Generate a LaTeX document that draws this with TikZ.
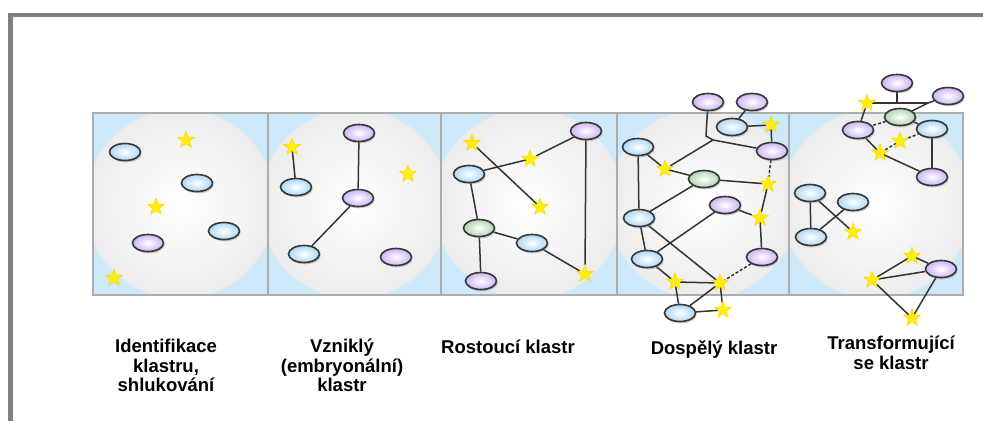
\documentclass[tikz,border=0pt]{standalone}
\usepackage{fontspec}
\setmainfont{Liberation Sans}
\usetikzlibrary{shapes.geometric,shadows,backgrounds}
\definecolor{panelblue}{RGB}{206,233,250}
\definecolor{blobgray}{RGB}{236,236,236}
\definecolor{nblue}{RGB}{175,215,245}
\definecolor{nlav}{RGB}{205,180,245}
\definecolor{ngreen}{RGB}{175,212,175}
\definecolor{nborder}{RGB}{55,55,55}
\definecolor{staryellow}{RGB}{255,238,10}
\definecolor{framegray}{RGB}{128,128,128}
\tikzset{
  cnode/.style={ellipse, draw=nborder, line width=1.6pt, minimum width=31pt, minimum height=17pt, inner sep=0pt,
    drop shadow={shadow xshift=1.2pt, shadow yshift=-1.8pt, opacity=0.4}},
  bnode/.style={cnode, inner color=white, outer color=nblue},
  lnode/.style={cnode, inner color=white, outer color=nlav},
  gnode/.style={cnode, inner color=white, outer color=ngreen},
  ystar/.style={star, star points=5, star point ratio=2.4, minimum size=18pt, inner sep=0pt,
    fill=staryellow, draw=yellow!70!orange, line width=0.4pt},
  conn/.style={draw=black!80, line width=1.5pt},
  dconn/.style={conn, dash pattern=on 3pt off 2pt},
  caption/.style={font=\bfseries\fontsize{18.5}{19.5}\selectfont, align=center, anchor=north, inner sep=0pt}
}
\begin{document}
\begin{tikzpicture}[x=1pt,y=-1pt]
\useasboundingbox (0,0) rectangle (983,421);

% ---------- panel 1 ----------
\node[bnode] (a1) at (125,152) {};
\node[ystar] (a2) at (186,140) {};
\node[bnode] (a3) at (197,183) {};
\node[ystar] (a4) at (156,207) {};
\node[bnode] (a5) at (224,231) {};
\node[lnode] (a6) at (148,243) {};
\node[ystar] (a7) at (114,278) {};
% ---------- panel 2 ----------
\node[ystar] (b1) at (292,147) {};
\node[bnode] (b2) at (296,187) {};
\node[lnode] (b3) at (359,133) {};
\node[lnode] (b4) at (358,198) {};
\node[bnode] (b5) at (304,254) {};
\node[ystar] (b6) at (408,174) {};
\node[lnode] (b7) at (396,257) {};
% ---------- panel 3 ----------
\node[lnode] (c1) at (586,131) {};
\node[ystar] (c2) at (472,143) {};
\node[ystar] (c3) at (530,159) {};
\node[bnode] (c4) at (469,174) {};
\node[ystar] (c5) at (540,207) {};
\node[gnode] (c6) at (479,228) {};
\node[bnode] (c7) at (532,243) {};
\node[lnode] (c8) at (481,281) {};
\node[ystar] (c9) at (585,274) {};
% ---------- panel 4 ----------
\node[lnode] (d1) at (708,102) {};
\node[lnode] (d2) at (752,102) {};
\node[bnode] (d3) at (732,127) {};
\node[ystar] (d4) at (771,125) {};
\node[lnode] (d5) at (772,151) {};
\node[bnode] (d6) at (638,147) {};
\node[ystar] (d7) at (665,169) {};
\node[gnode] (d8) at (704,179) {};
\node[ystar] (d9) at (768,184) {};
\node[lnode] (d10) at (725,205) {};
\node[ystar] (d11) at (760,218) {};
\node[bnode] (d12) at (639,218) {};
\node[bnode] (d13) at (647,259) {};
\node[lnode] (d14) at (762,257) {};
\node[ystar] (d15) at (675,282) {};
\node[ystar] (d16) at (720,283) {};
\node[bnode] (d17) at (680,313) {};
\node[ystar] (d18) at (723,310) {};
\coordinate (dk) at (706,136);
\coordinate (dj) at (713,140);
% ---------- panel 5 ----------
\node[lnode] (e1) at (897,83) {};
\node[lnode] (e2) at (948,96) {};
\node[ystar] (e3) at (867,103) {};
\node[gnode] (e4) at (900,117) {};
\node[lnode] (e5) at (858,130) {};
\node[bnode] (e6) at (932,129) {};
\node[ystar] (e7) at (900,141) {};
\node[ystar] (e8) at (880,153) {};
\node[lnode] (e9) at (932,177) {};
\node[bnode] (e10) at (810,193) {};
\node[bnode] (e11) at (853,202) {};
\node[bnode] (e12) at (811,237) {};
\node[ystar] (e13) at (853,232) {};
\node[ystar] (e14) at (912,256) {};
\node[lnode] (e15) at (941,269) {};
\node[ystar] (e16) at (872,280) {};
\node[ystar] (e17) at (912,318) {};
\coordinate (ek) at (897,103);
\coordinate (er) at (928,103);

% captions
\node[caption] (t1) at (166,339) {Identifikace\\klastru,\\shlukování};
\node[caption] (t2) at (342,339) {Vzniklý\\(embryonální)\\klastr};
\node[caption] (t3) at (508,340) {Rostoucí klastr};
\node[caption] (t4) at (714,340) {Dospělý klastr};
\node[caption] (t5) at (891,336) {Transformující\\se klastr};

\begin{scope}[on background layer]
  \fill[white] (0,0) rectangle (983,421);
  % outer frame
  \draw[framegray, line width=4pt] (983,14.5) -- (8.5,14.5);
  \draw[framegray, line width=5pt] (10.5,12.5) -- (10.5,421);
  \foreach \xa/\xb in {93/268,268/441,441/617,617/789,789/963} {
    \fill[panelblue] (\xa,113) rectangle (\xb,295);
    \begin{scope}
      \clip (\xa,113) rectangle (\xb,295);
      \shade[inner color=white, outer color=blobgray] ({(\xa+\xb)/2},204) circle (95);
    \end{scope}
  }
  \draw[gray!65, line width=1.2pt] (93,113) rectangle (963,295);
  \foreach \x in {268,441,617,789} \draw[gray!65, line width=1.2pt] (\x,113) -- (\x,295);
  % panel 2 edges
  \draw[conn] (b1) -- (b2);
  \draw[conn] (b3) -- (b4);
  \draw[conn] (b4) -- (b5);
  % panel 3 edges
  \draw[conn] (c1) -- (c3);
  \draw[conn] (c3) -- (c4);
  \draw[conn] (c2) -- (c5);
  \draw[conn] (c4) -- (c6);
  \draw[conn] (c6) -- (c8);
  \draw[conn] (c6) -- (c7);
  \draw[conn] (c7) -- (c9);
  \draw[conn] (c1) -- (c9);
  % panel 4 edges
  \draw[conn] (d1) -- (dk) -- (dj);
  \draw[conn] (dj) -- (d7);
  \draw[conn] (dj) -- (d5);
  \draw[conn] (d2) -- (d3);
  \draw[conn] (d3) -- (d4);
  \draw[conn] (d4) -- (d5);
  \draw[conn] (d6) -- (d7);
  \draw[conn] (d7) -- (d8);
  \draw[conn] (d8) -- (d9);
  \draw[conn] (d6) -- (d12);
  \draw[dconn] (d5) -- (d9);
  \draw[conn] (d9) -- (d11);
  \draw[conn] (d10) -- (d11);
  \draw[conn] (d11) -- (d14);
  \draw[conn] (d8) -- (d12);
  \draw[conn] (d10) -- (d13);
  \draw[conn] (d12) -- (d16);
  \draw[conn] (d12) -- (d13);
  \draw[conn] (d13) -- (d15);
  \draw[conn] (d15) -- (d16);
  \draw[dconn] (d14) -- (d16);
  \draw[conn] (d15) -- (d17);
  \draw[conn] (d16) -- (d17);
  \draw[conn] (d16) -- (d18);
  \draw[conn] (d17) -- (d18);
  % panel 5 edges
  \draw[conn] (e1) -- (ek);
  \draw[conn] (e3) -- (er);
  \draw[conn] (er) -- (e2);
  \draw[conn] (er) -- (e4);
  \draw[conn] (e3) -- (e5);
  \draw[dconn] (e4) -- (e5);
  \draw[conn] (e4) -- (e6);
  \draw[conn] (e5) -- (e8);
  \draw[dconn] (e7) -- (e6);
  \draw[dconn] (e8) -- (e7);
  \draw[conn] (e8) -- (e9);
  \draw[conn] (e6) -- (e9);
  \draw[conn] (e10) -- (e12);
  \draw[conn] (e10) -- (e13);
  \draw[conn] (e12) -- (e11);
  \draw[conn] (e16) -- (e14);
  \draw[conn] (e16) -- (e15);
  \draw[conn] (e16) -- (e17);
  \draw[conn] (e15) -- (e17);
  \draw[conn] (e14) -- (e15);
\end{scope}
\end{tikzpicture}
\end{document}
